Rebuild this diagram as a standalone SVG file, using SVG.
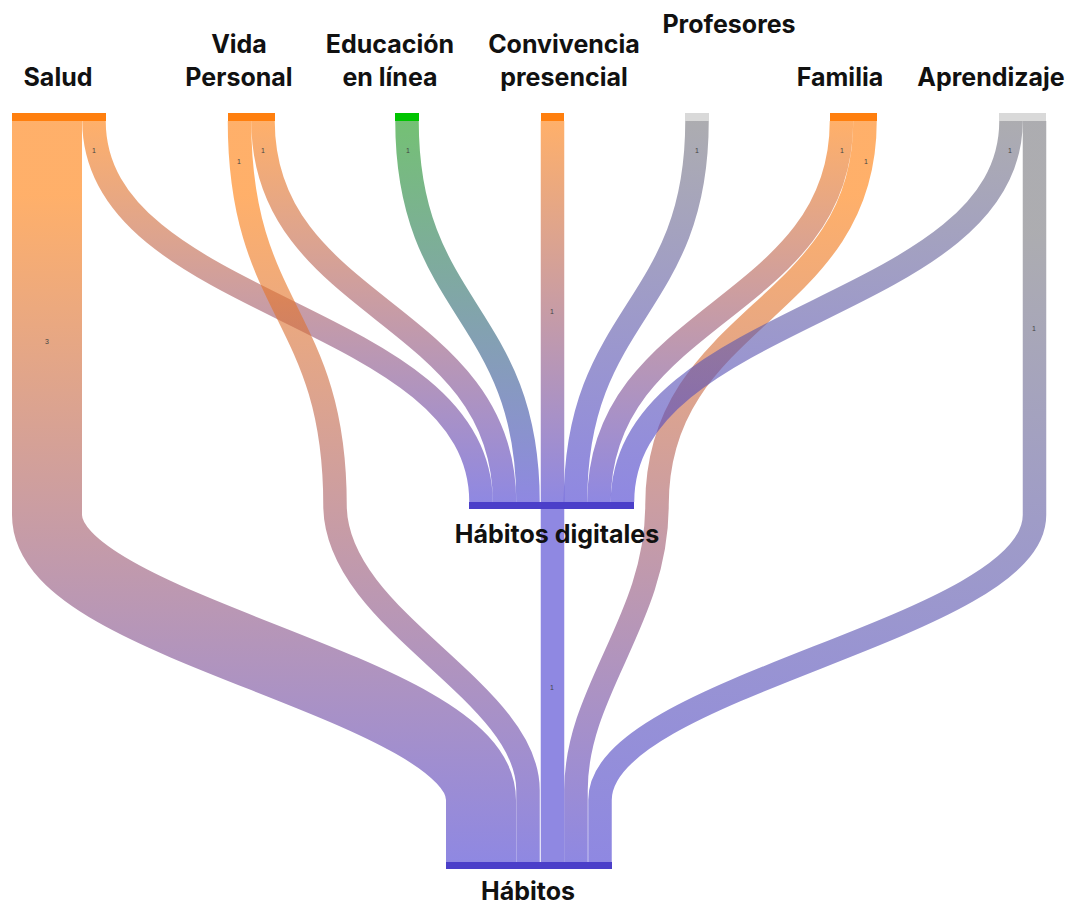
<svg xmlns="http://www.w3.org/2000/svg" width="1068" height="911" viewBox="0 0 1068 911">
<style>
.lk{fill:none;stroke-opacity:0.62;stroke-linecap:butt}
.u1{stroke-width:23.5}
.u3{stroke-width:70}
.bar{stroke:none}
.lbl{font-family:Inter,"Liberation Sans",sans-serif;font-weight:700;font-size:25px;fill:#111;text-anchor:middle}
.v{font-family:"Liberation Sans",Arial,sans-serif;font-size:7px;fill:#444;text-anchor:middle}
</style>
<defs>
<linearGradient id="gO" gradientUnits="userSpaceOnUse" x1="0" y1="121" x2="0" y2="502"><stop offset="0" stop-color="#ff7f0e"/><stop offset="1" stop-color="#4a3fd0"/></linearGradient>
<linearGradient id="gOL" gradientUnits="userSpaceOnUse" x1="0" y1="121" x2="0" y2="862"><stop offset="0" stop-color="#ff7f0e"/><stop offset="0.1" stop-color="#ff7f0e"/><stop offset="1" stop-color="#4a3fd0"/></linearGradient>
<linearGradient id="gG" gradientUnits="userSpaceOnUse" x1="0" y1="121" x2="0" y2="502"><stop offset="0" stop-color="#1f9a1f"/><stop offset="1" stop-color="#4a3fd0"/></linearGradient>
<linearGradient id="gY" gradientUnits="userSpaceOnUse" x1="0" y1="121" x2="0" y2="502"><stop offset="0" stop-color="#7a7a80"/><stop offset="1" stop-color="#4a3fd0"/></linearGradient>
<linearGradient id="gYL" gradientUnits="userSpaceOnUse" x1="0" y1="121" x2="0" y2="862"><stop offset="0" stop-color="#7a7a80"/><stop offset="0.15" stop-color="#7a7a80"/><stop offset="1" stop-color="#4a3fd0"/></linearGradient>
</defs>
<g id="connectors">
<path class="lk u3" stroke="url(#gOL)" d="M47,121 V515 C47,629 481,686 481,800 V862"/>
<path class="lk u1" stroke="url(#gO)" d="M94,121 C94,311 481,311 481,502"/>
<path class="lk u1" stroke="url(#gOL)" d="M239.5,121 C239.5,313 335,313 335,505 C335,620 528,690 528,790 V862"/>
<path class="lk u1" stroke="url(#gO)" d="M263,121 C263,311 504.5,311 504.5,502"/>
<path class="lk u1" stroke="url(#gG)" d="M407,121 C407,311 528,311 528,502"/>
<path class="lk u1" stroke="url(#gO)" d="M552.5,121 V502"/>
<path class="lk u1" stroke="url(#gY)" d="M697,121 C697,311 575.5,311 575.5,502"/>
<path class="lk u1" stroke="url(#gO)" d="M841.5,121 C841.5,311 599,311 599,502"/>
<path class="lk u1" stroke="url(#gOL)" d="M865,121 C865,313 657,313 657,505 C657,620 576,690 576,790 V862"/>
<path class="lk u1" stroke="url(#gY)" d="M1011,121 C1011,311 622.5,311 622.5,502"/>
<path class="lk u1" stroke="url(#gYL)" d="M1034.5,121 V515 C1034.5,629 600,686 600,800 V862"/>
<path class="lk u1" stroke="#4a3fd0" d="M552.5,509 V862"/>
<text class="v" x="47" y="344">3</text>
<text class="v" x="94" y="153">1</text>
<text class="v" x="239" y="164">1</text>
<text class="v" x="263" y="153">1</text>
<text class="v" x="408" y="153">1</text>
<text class="v" x="552" y="314">1</text>
<text class="v" x="697" y="153">1</text>
<text class="v" x="842" y="153">1</text>
<text class="v" x="866" y="164">1</text>
<text class="v" x="1010" y="153">1</text>
<text class="v" x="1034" y="331">1</text>
<text class="v" x="552" y="690">1</text>
</g>
<g id="node-salud"><rect class="bar" x="12" y="113" width="94" height="8" fill="#ff7f0e"/><text class="lbl" x="58" y="86">Salud</text></g>
<g id="node-vida"><rect class="bar" x="228" y="113" width="47" height="8" fill="#ff7f0e"/><text class="lbl" x="239" y="53">Vida</text><text class="lbl" x="239" y="86">Personal</text></g>
<g id="node-educacion"><rect class="bar" x="395" y="113" width="24" height="8" fill="#00c400"/><text class="lbl" x="390" y="53">Educación</text><text class="lbl" x="390" y="86">en línea</text></g>
<g id="node-convivencia"><rect class="bar" x="541" y="113" width="23" height="8" fill="#ff7f0e"/><text class="lbl" x="564" y="53">Convivencia</text><text class="lbl" x="564" y="86">presencial</text></g>
<g id="node-profesores"><rect class="bar" x="685" y="113" width="24" height="8" fill="#d9d9d9"/><text class="lbl" x="729" y="33">Profesores</text></g>
<g id="node-familia"><rect class="bar" x="830" y="113" width="47" height="8" fill="#ff7f0e"/><text class="lbl" x="840" y="86">Familia</text></g>
<g id="node-aprendizaje"><rect class="bar" x="999" y="113" width="47" height="8" fill="#d9d9d9"/><text class="lbl" x="991" y="86">Aprendizaje</text></g>
<g id="node-habitos-digitales"><rect class="bar" x="469" y="502" width="165" height="7" fill="#4b3fc9"/><text class="lbl" x="557" y="543">Hábitos digitales</text></g>
<g id="node-habitos"><rect class="bar" x="446" y="862" width="166" height="7" fill="#4b3fc9"/><text class="lbl" x="528" y="900">Hábitos</text></g>
</svg>
